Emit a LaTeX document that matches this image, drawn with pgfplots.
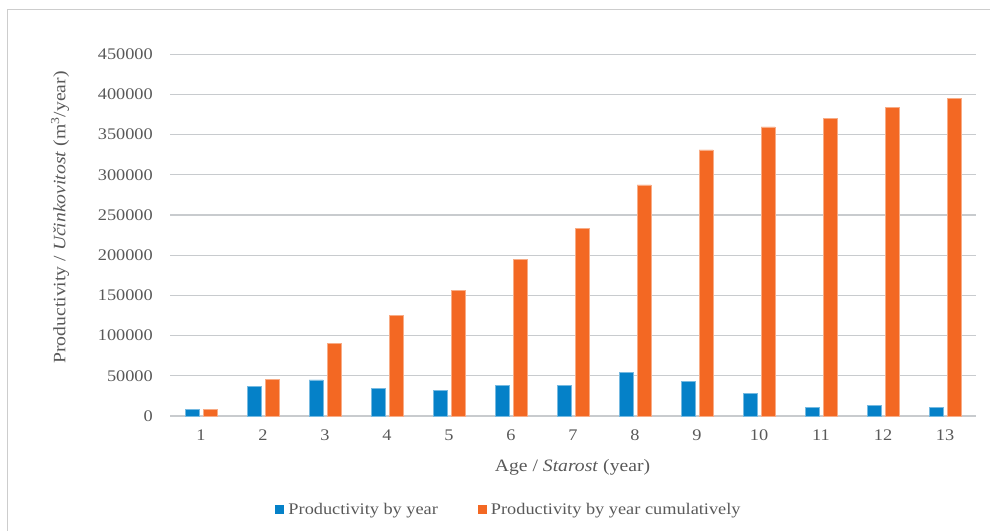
\documentclass[border=0pt]{standalone}
\usepackage{fontspec}
\setmainfont{Liberation Serif}[FakeStretch=1.13]
\usepackage{pgfplots}
\pgfplotsset{compat=1.18}

\definecolor{prodblue}{RGB}{5,129,200}
\definecolor{prodorange}{RGB}{243,104,35}
\definecolor{gridgray}{RGB}{200,203,206}
\definecolor{textgray}{RGB}{89,89,89}
\definecolor{framegray}{RGB}{205,205,205}

\begin{document}
\begin{tikzpicture}[font=\fontsize{16.2bp}{19bp}\selectfont]
\useasboundingbox (0,0) rectangle (990bp,531bp);
\draw[framegray, line width=1bp] (7bp,0) -- (7bp,521bp) -- (990bp,521bp);
\begin{axis}[
  at={(170bp,115bp)}, anchor=south west,
  scale only axis,
  width=806bp, height=361.8bp,
  xmin=0.5, xmax=13.5,
  ymin=0, ymax=450000,
  xtick={1,...,13},
  ytick={0,50000,...,450000},
  scaled y ticks=false,
  /pgf/number format/assume math mode=true,
  yticklabel style={/pgf/number format/fixed, /pgf/number format/1000 sep={}, inner sep=0pt, xshift=-17bp},
  xticklabel style={inner sep=0pt, yshift=-14bp},
  tick label style={text=textgray},
  major tick length=0pt,
  separate axis lines,
  x axis line style={draw=gridgray, line width=1.2bp},
  y axis line style={draw=none},
  ymajorgrids,
  grid style={draw=gridgray, line width=1.2bp},
  ybar=4bp, bar width=14bp,
  xlabel={Age / \textit{Starost} (year)},
  ylabel={Productivity / \textit{Učinkovitost} (m\textsuperscript{3}/year)},
  label style={text=textgray, font=\fontsize{17.4bp}{20bp}\selectfont},
  xlabel style={at={(axis description cs:0.4994,-0.141)}, anchor=center},
  ylabel style={at={(axis description cs:-0.1365,0.549)}, anchor=center},
  legend columns=2,
  legend style={draw=none, fill=none, text=textgray,
    at={(axis description cs:0.4194,-0.2598)}, anchor=center,
    nodes={inner sep=0pt, anchor=west},
    /tikz/every odd column/.append style={column sep=4bp},
    /tikz/every even column/.append style={column sep=40bp}},
  legend image code/.code={\fill[#1, draw=none] (0bp,-4bp) rectangle (9bp,5bp);},
]
\addplot[fill=prodblue, draw=prodblue!55!white, line width=0.5bp] coordinates {
  (1,8500) (2,37000) (3,45000) (4,34500) (5,31500) (6,38500) (7,38500)
  (8,54000) (9,43500) (10,28500) (11,11000) (12,13500) (13,11000)
};
\addplot[fill=prodorange, draw=prodorange!55!white, line width=0.5bp] coordinates {
  (1,8500) (2,45500) (3,90500) (4,125000) (5,156500) (6,195000) (7,233500)
  (8,287500) (9,331000) (10,359500) (11,370500) (12,384000) (13,395000)
};
\legend{Productivity by year, Productivity by year cumulatively}
\end{axis}
\end{tikzpicture}
\end{document}
